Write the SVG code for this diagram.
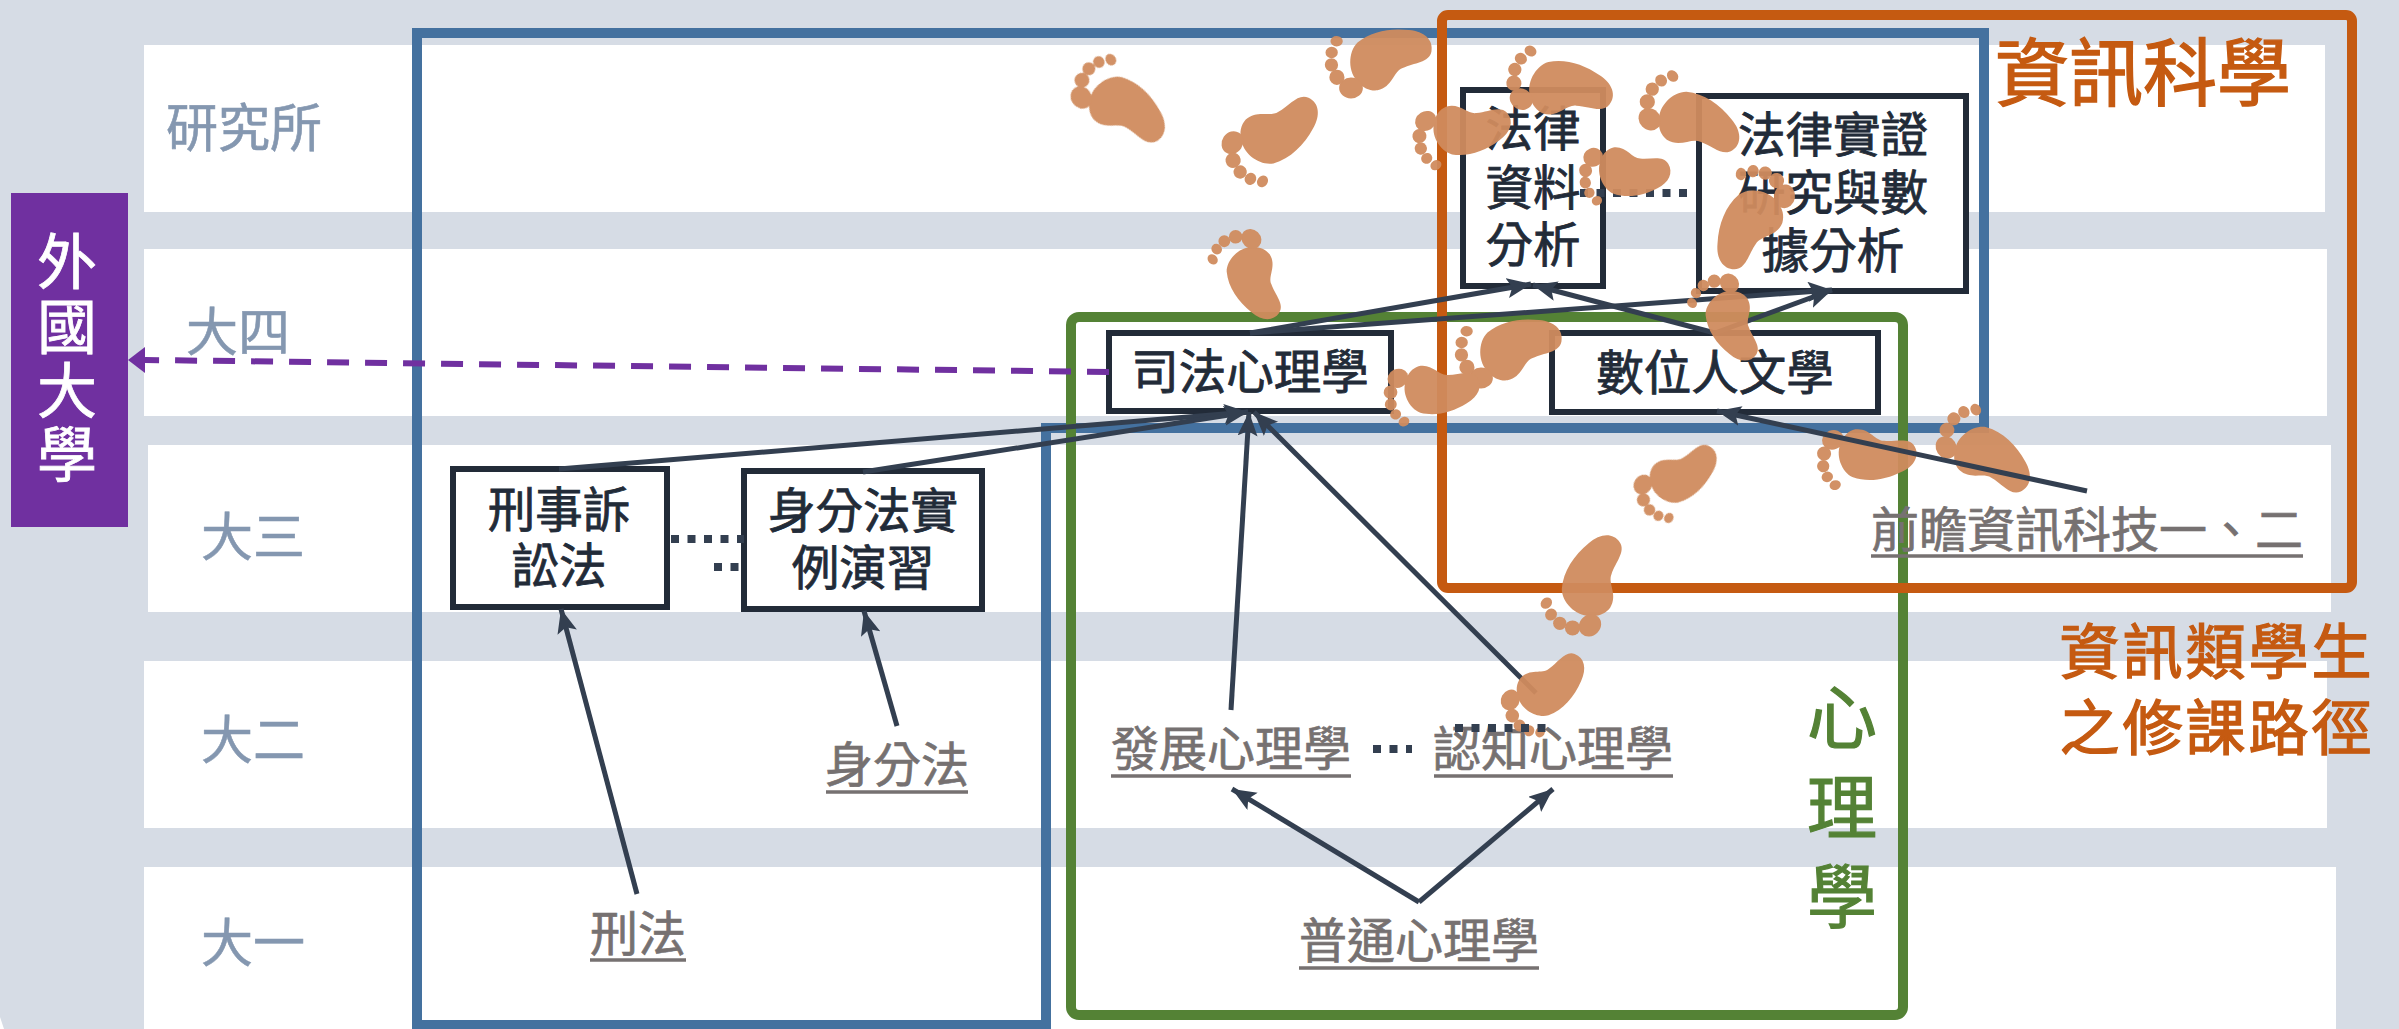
<svg xmlns="http://www.w3.org/2000/svg" width="2399" height="1029" viewBox="0 0 2399 1029">
<style>
text{font-family:"Liberation Sans","Noto Sans CJK TC","Noto Sans CJK SC",sans-serif;text-anchor:middle}
.row{fill:#fff}
.lbl{font-size:52px;fill:#8497b0;stroke:#8497b0;stroke-width:.6}
.box{fill:#fff;stroke:#222b38;stroke-width:6}
.bt{font-size:47.5px;fill:#222b38;stroke:#222b38;stroke-width:.8}
.ct{font-size:48px;fill:#767171;stroke:#767171;stroke-width:.7}
.ul{stroke:#767171;stroke-width:3.5;fill:none}
.c{stroke:#333f50;stroke-width:5;fill:none;marker-end:url(#ah)}
.d{stroke:#333f50;stroke-width:8;fill:none;stroke-dasharray:8 8.5}
.foot{fill:#d08c5e;opacity:.95}
.or{fill:#c55a11;stroke:#c55a11;stroke-width:1.4}
.gr{font-size:70px;fill:#548235;stroke:#548235;stroke-width:1.2}
</style>
<defs>
<marker id="ah" markerUnits="userSpaceOnUse" markerWidth="26" markerHeight="22" refX="24" refY="10" orient="auto"><path d="M0,0L24,10L0,20L5,10Z" fill="#333f50"/></marker>
<g id="f">
<path d="M-24,-22C-14,-34 8,-34 18,-24C30,-10 34,10 32,30C31,46 22,56 10,54C-2,52-2,36-8,24C-12,14-28,14-32,-2C-33,-10-30,-17-24,-22Z"/>
<ellipse cx="-30" cy="-30" rx="11" ry="12.5"/><ellipse cx="-19" cy="-45" rx="8" ry="8"/><ellipse cx="-6" cy="-51" rx="7" ry="7"/><ellipse cx="7" cy="-51" rx="6" ry="6.5"/><ellipse cx="19" cy="-46" rx="5.5" ry="6.5"/>
</g>
</defs>
<rect width="2399" height="1029" fill="#d6dce5"/>
<path d="M0,1017L4,1029H0Z" fill="#fff"/>
<g id="rows">
<rect class="row" x="144" y="45" width="2181" height="167"/>
<rect class="row" x="144" y="249" width="2183" height="167"/>
<rect class="row" x="148" y="445" width="2183" height="167"/>
<rect class="row" x="144" y="661" width="2183" height="167"/>
<rect class="row" x="144" y="867" width="2192" height="162"/>
</g>
<g id="row-labels">
<text class="lbl" x="244" y="147">研究所</text>
<text class="lbl" x="238" y="351">大四</text>
<text class="lbl" x="253" y="556">大三</text>
<text class="lbl" x="253" y="759">大二</text>
<text class="lbl" x="253" y="962">大一</text>
</g>
<g id="region-law"><path d="M417,33H1984V428H1046V1025H417Z" fill="none" stroke="#44719f" stroke-width="10"/></g>
<g id="region-psych"><rect x="1071" y="317" width="832" height="698" rx="8" fill="none" stroke="#548235" stroke-width="10"/>
<text class="gr"><tspan x="1842" y="744">心</tspan><tspan x="1842" y="834">理</tspan><tspan x="1842" y="923">學</tspan></text></g>
<g id="region-cs"><rect x="1442" y="15" width="910" height="573" rx="6" fill="none" stroke="#c55a11" stroke-width="10"/>
<text class="or" x="2143" y="100" font-size="74">資訊科學</text></g>
<g id="cs-path-label"><text class="or" font-size="60" letter-spacing="3"><tspan x="2217" y="674">資訊類學生</tspan><tspan x="2217" y="750">之修課路徑</tspan></text></g>
<g id="foreign"><rect x="11" y="193" width="117" height="334" fill="#7030a0"/>
<text font-size="60" fill="#fff" stroke="#fff" stroke-width=".8"><tspan x="67" y="284">外</tspan><tspan x="67" y="349">國</tspan><tspan x="67" y="413">大</tspan><tspan x="67" y="477">學</tspan></text></g>
<g id="n-crim-proc"><rect class="box" x="453" y="469" width="214" height="138"/><text class="bt" font-size="47"><tspan x="559" y="527">刑事訴</tspan><tspan x="559" y="583">訟法</tspan></text></g>
<g id="n-family-prac"><rect class="box" x="744" y="471" width="238" height="138"/><text class="bt"><tspan x="863" y="528">身分法實</tspan><tspan x="863" y="585">例演習</tspan></text></g>
<g id="n-judicial"><rect class="box" x="1109" y="333" width="282" height="78"/><text class="bt" x="1250" y="389">司法心理學</text></g>
<g id="n-digital"><rect class="box" x="1552" y="333" width="326" height="79"/><text class="bt" x="1715" y="390">數位人文學</text></g>
<g id="n-data"><rect class="box" x="1463" y="90" width="140" height="196"/><text class="bt"><tspan x="1533" y="146">法律</tspan><tspan x="1533" y="205">資料</tspan><tspan x="1533" y="262">分析</tspan></text></g>
<g id="n-empirical"><rect class="box" x="1699" y="96" width="267" height="195"/><text class="bt"><tspan x="1833" y="152">法律實證</tspan><tspan x="1833" y="210">研究與數</tspan><tspan x="1833" y="268">據分析</tspan></text></g>
<g id="n-crim"><text class="ct" x="638" y="951">刑法</text><path class="ul" d="M590,960H686"/></g>
<g id="n-family"><text class="ct" x="897" y="782">身分法</text><path class="ul" d="M826,792H968"/></g>
<g id="n-dev"><text class="ct" x="1231" y="766">發展心理學</text><path class="ul" d="M1111,776H1351"/></g>
<g id="n-cog"><text class="ct" x="1553" y="766">認知心理學</text><path class="ul" d="M1434,776H1673"/></g>
<g id="n-gen"><text class="ct" x="1419" y="958">普通心理學</text><path class="ul" d="M1299,968H1539"/></g>
<g id="n-foresight"><text class="ct" x="2087" y="547">前瞻資訊科技一、二</text><path class="ul" d="M1871,556H2303"/></g>
<g id="connectors">
<path class="c" d="M637,894L561,609"/>
<path class="c" d="M897,726L864,611"/>
<path class="c" d="M559,469L1248,412"/>
<path class="c" d="M863,472L1248,412"/>
<path class="c" d="M1231,710L1249,412"/>
<path class="c" d="M1536,693L1254,412"/>
<path class="c" d="M1419,902L1232,789"/>
<path class="c" d="M1419,902L1553,789"/>
<path class="c" d="M1250,333L1531,284"/>
<path class="c" d="M1250,333L1832,290"/>
<path class="c" d="M1715,333L1533,285"/>
<path class="c" d="M1715,333L1832,290"/>
<path d="M1109,372L145,360" fill="none" stroke="#7030a0" stroke-width="6" stroke-dasharray="22 16"/>
<path d="M128,360L145,347V373Z" fill="#7030a0"/>
<path class="d" d="M671,539H744"/>
<path class="d" d="M714,567H744"/>
<path class="d" d="M1580,193L1692,193"/>
<path class="d" d="M1373,749H1412"/>
</g>
<g id="footprints" class="foot">
<use href="#f" transform="translate(1120,105) rotate(-34) scale(.93)"/>
<use href="#f" transform="translate(1272,135) rotate(-146) scale(-.95,.95)"/>
<use href="#f" transform="translate(1380,60) rotate(-89) scale(.95)"/>
<use href="#f" transform="translate(1462,130) rotate(-121) scale(-.88,.88)"/>
<use href="#f" transform="translate(1560,88) rotate(-61) scale(.95)"/>
<use href="#f" transform="translate(1625,172) rotate(-112) scale(-.85,.8)"/>
<use href="#f" transform="translate(1690,120) rotate(-44) scale(.95)"/>
<use href="#f" transform="translate(1752,220) rotate(9) scale(-.95,.95)"/>
<use href="#f" transform="translate(1252,275) rotate(-46) scale(-.85,.85)"/>
<use href="#f" transform="translate(1510,350) rotate(-89) scale(.95)"/>
<use href="#f" transform="translate(1432,390) rotate(-116) scale(-.85,.85)"/>
<use href="#f" transform="translate(1730,318) rotate(-46) scale(-.82,.82)"/>
<use href="#f" transform="translate(1677,478) rotate(-146) scale(-.82,.82)"/>
<use href="#f" transform="translate(1867,455) rotate(-111) scale(-.88,.88)"/>
<use href="#f" transform="translate(1985,455) rotate(-34) scale(.93)"/>
<use href="#f" transform="translate(1590,585) rotate(-135) scale(.95)"/>
<use href="#f" transform="translate(1545,690) rotate(-151) scale(-.85,.85)"/>
</g>
<g id="connectors-top">
<path class="c" d="M2087,491L1717,411"/>
<path class="d" d="M1455,728H1554" stroke-width="6"/>
</g>
</svg>
